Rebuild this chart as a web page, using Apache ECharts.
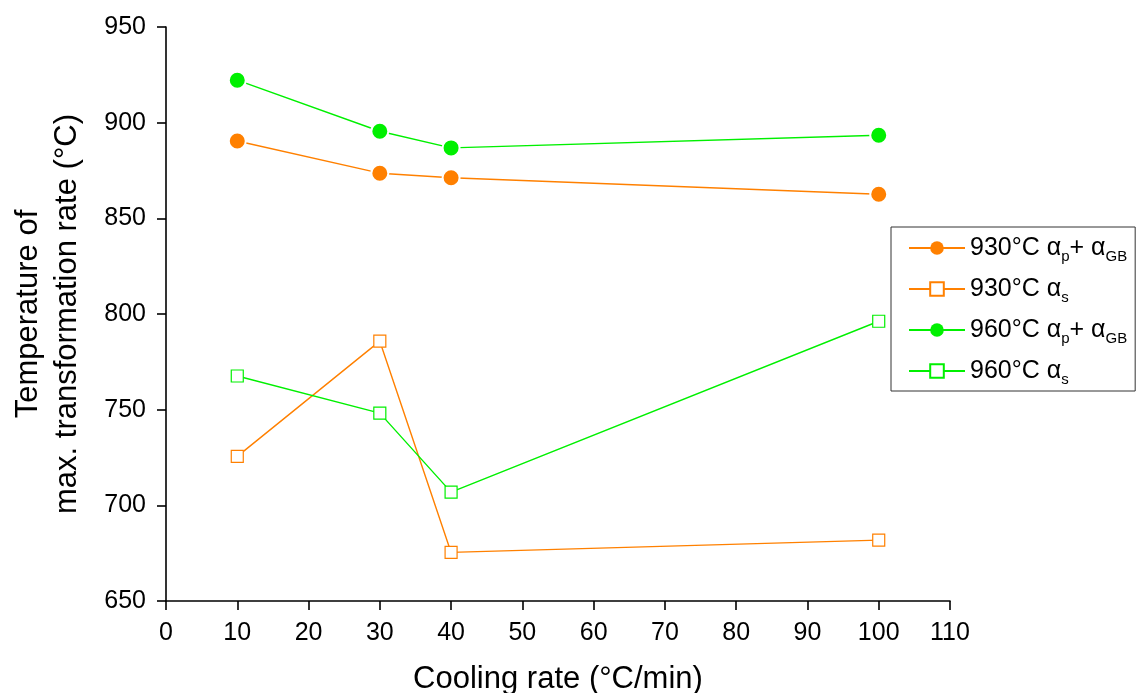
<!DOCTYPE html>
<html>
<head>
<meta charset="utf-8">
<script src="https://cdn.jsdelivr.net/npm/echarts@6/dist/echarts.min.js"></script>
<style>
  html, body { margin: 0; padding: 0; background: #fff; }
  #chart { width: 1144px; height: 693px; }
</style>
</head>
<body>
<div id="chart"></div>
<script>
// Cooling rates (°C/min)
const coolingRates = [10, 30, 40, 100];

// Temperature of max. transformation rate (°C)
const t930_pGB = [890.4, 873.6, 871.2, 862.6];
const t930_s   = [725.6, 785.8, 675.4, 681.8];
const t960_pGB = [922.2, 895.5, 886.8, 893.4];
const t960_s   = [767.6, 748.2, 706.9, 796.2];

const xTicks = { min: 0, max: 110, interval: 10 };
const yTicks = { min: 650, max: 950, interval: 50 };

const ORANGE = '#ff8000';
const GREEN = '#00f000';
const FONT = 'Liberation Sans, Arial, sans-serif';

const pairs = (ys) => coolingRates.map((x, i) => [x, ys[i]]);

function filledSeries(name, ys, color) {
  return {
    name, type: 'line', data: pairs(ys),
    symbol: 'circle', symbolSize: 17,
    lineStyle: { color, width: 1.4 },
    itemStyle: { color, borderColor: '#fff', borderWidth: 2 },
    emphasis: { disabled: true }, z: 3
  };
}
function hollowSeries(name, ys, color) {
  return {
    name, type: 'line', data: pairs(ys),
    symbol: 'rect', symbolSize: 12,
    lineStyle: { color, width: 1.4 },
    itemStyle: { color: '#fff', borderColor: color, borderWidth: 1.2 },
    emphasis: { disabled: true }, z: 2
  };
}

const chart = echarts.init(document.getElementById('chart'), null, { renderer: 'canvas' });

const rich = {
  t: { fontSize: 25, fontFamily: FONT, color: '#000', lineHeight: 28 },
  sub: { fontSize: 15, fontFamily: FONT, color: '#000', lineHeight: 28, padding: [17, 0, 0, 0] }
};

const axisCommon = {
  axisLine: { show: true, onZero: false, lineStyle: { color: '#000', width: 1.6 } },
  axisTick: { show: true, inside: false, length: 9, lineStyle: { color: '#000', width: 1.6 } },
  splitLine: { show: false }
};

chart.setOption({
  animation: false,
  backgroundColor: '#fff',
  grid: { left: 166, top: 27, right: 194, bottom: 92, containLabel: false, outerBoundsMode: 'none' },
  xAxis: Object.assign({
    type: 'value', min: xTicks.min, max: xTicks.max, interval: xTicks.interval,
    name: 'Cooling rate (°C/min)', nameLocation: 'middle', nameGap: 63,
    nameTextStyle: { fontSize: 31, fontFamily: FONT, color: '#000' },
    axisLabel: { fontSize: 25, fontFamily: FONT, color: '#000', margin: 20 }
  }, axisCommon),
  yAxis: Object.assign({
    type: 'value', min: yTicks.min, max: yTicks.max, interval: yTicks.interval,
    name: 'Temperature of\nmax. transformation rate (°C)', nameLocation: 'middle', nameGap: 79,
    nameTextStyle: { fontSize: 31, fontFamily: FONT, color: '#000', lineHeight: 39 },
    axisLabel: { fontSize: 25, fontFamily: FONT, color: '#000', margin: 20 }
  }, axisCommon),
  legend: {
    orient: 'vertical', left: 891, top: 227,
    padding: [5, 8, 4, 17], itemGap: 9,
    itemWidth: 56, itemHeight: 17,
    borderColor: '#333', borderWidth: 1, backgroundColor: '#fff',
    textStyle: { fontSize: 25, fontFamily: FONT, color: '#000', rich },
    formatter: (name) => {
      const m = name.match(/^(\d+°C) (.*)$/);
      if (name.endsWith('pGB')) return `{t|${m[1]} α}{sub|p}{t|+ α}{sub|GB}`;
      return `{t|${m[1]} α}{sub|s}`;
    },
    data: ['930°C pGB', '930°C s', '960°C pGB', '960°C s'].map((name) => ({
      name, itemStyle: name.endsWith('pGB') ? { borderWidth: 0 } : undefined
    }))
  },
  series: [
    filledSeries('930°C pGB', t930_pGB, ORANGE),
    hollowSeries('930°C s', t930_s, ORANGE),
    filledSeries('960°C pGB', t960_pGB, GREEN),
    hollowSeries('960°C s', t960_s, GREEN)
  ]
});
</script>
</body>
</html>
